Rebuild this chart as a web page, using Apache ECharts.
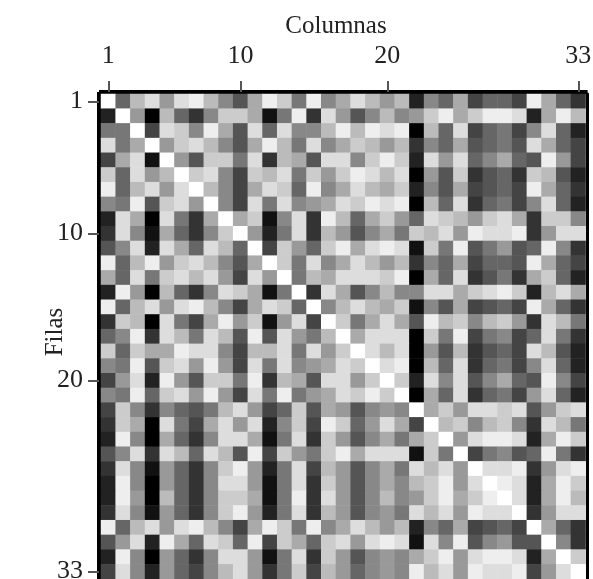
<!DOCTYPE html>
<html><head><meta charset="utf-8"><style>html,body{margin:0;padding:0;background:#fff;overflow:hidden}#c{width:593px;height:579px}</style>
<script src="https://cdn.jsdelivr.net/npm/echarts@6/dist/echarts.min.js"></script></head><body><div id="c"></div>
<script>
// Gray level of each cell: 0 = black, 15 = white
const fila01=[15,6,11,13,9,13,14,11,8,5,10,14,12,7,14,8,10,13,11,9,11,2,8,6,10,4,6,6,4,14,10,6,3];
const fila02=[2,15,9,0,11,6,3,8,12,12,10,1,7,14,3,13,9,5,8,11,8,9,12,14,10,12,14,14,13,2,10,14,11];
const fila03=[7,7,15,4,13,12,8,14,10,5,13,6,13,8,8,11,14,11,14,13,14,0,11,6,13,4,6,7,4,8,13,6,2];
const fila04=[13,7,10,15,9,12,13,11,8,5,10,14,11,7,13,8,10,12,11,9,11,3,8,6,10,5,6,7,5,13,10,6,4];
const fila05=[4,10,13,1,15,9,5,12,12,7,13,3,11,10,5,13,13,8,12,14,12,2,13,9,13,6,8,10,6,5,14,9,4];
const fila06=[12,6,13,9,11,15,12,13,8,4,12,11,13,7,12,9,12,14,13,11,13,0,9,5,12,3,5,6,3,12,11,5,2];
const fila07=[14,6,11,13,9,13,15,11,8,4,10,13,12,6,14,8,10,13,11,10,12,2,8,5,10,4,5,6,4,14,10,6,3];
const fila08=[8,7,14,5,12,13,9,15,8,4,13,7,13,8,9,10,13,12,14,13,14,0,11,6,13,3,6,7,4,8,13,6,2];
const fila09=[2,13,10,0,13,7,3,10,15,10,12,1,8,13,3,14,11,6,10,12,9,6,13,12,11,9,12,13,10,3,12,12,8];
const fila10=[3,13,8,1,10,6,3,8,12,15,9,2,7,13,3,11,9,5,8,10,7,12,11,13,9,14,13,13,14,3,9,13,13];
const fila11=[5,8,13,2,13,10,6,13,11,6,15,4,12,9,6,12,14,10,13,14,13,1,12,7,14,5,7,9,5,6,14,8,3];
const fila12=[14,6,11,14,9,12,13,11,8,5,10,15,12,7,13,8,10,13,11,9,11,3,8,6,10,4,6,6,5,14,10,6,4];
const fila13=[10,6,13,7,12,13,11,13,9,4,13,9,15,7,11,10,13,13,13,12,14,0,10,6,13,3,5,7,3,10,12,6,2];
const fila14=[2,14,9,0,11,6,3,8,13,12,10,1,7,15,3,13,10,5,8,11,8,8,13,13,10,12,13,14,12,2,11,13,10];
const fila15=[14,6,11,13,9,13,14,11,8,4,10,13,12,6,15,8,11,13,11,10,12,1,8,5,10,4,5,6,4,14,10,6,3];
const fila16=[3,12,11,0,13,7,4,10,14,9,12,1,9,13,4,15,12,7,10,13,10,5,14,11,12,8,11,12,9,3,13,11,7];
const fila17=[6,8,14,3,13,11,7,13,11,5,14,5,13,9,7,11,15,10,13,13,13,0,12,7,14,4,7,8,4,6,13,7,3];
const fila18=[12,6,12,10,10,14,13,13,8,4,11,11,13,7,13,9,12,15,13,11,13,0,9,5,11,3,5,6,4,13,11,5,2];
const fila19=[8,7,14,5,12,13,9,14,9,4,13,7,13,8,9,10,13,12,15,13,14,0,11,6,13,3,6,7,4,8,13,6,2];
const fila20=[4,9,13,2,14,9,5,12,12,7,14,3,11,10,5,13,13,9,12,15,12,2,13,8,13,5,8,10,6,5,14,8,4];
const fila21=[8,7,14,6,12,13,9,14,9,4,13,7,14,7,9,10,13,12,14,12,15,0,10,6,13,3,6,7,4,9,13,6,2];
const fila22=[4,12,8,3,8,6,5,7,11,13,9,4,6,12,5,10,9,5,8,9,8,15,10,12,9,13,13,12,13,5,9,12,13];
const fila23=[3,12,10,0,13,7,4,10,13,9,13,2,8,12,4,14,12,6,9,13,10,4,15,11,12,8,11,12,8,3,13,11,7];
const fila24=[2,14,8,0,10,6,3,8,13,13,10,1,7,13,3,12,9,5,8,10,7,10,12,15,9,13,14,14,13,2,10,14,12];
const fila25=[5,8,13,3,13,11,6,13,11,5,14,4,12,9,7,12,14,10,13,13,13,1,12,7,15,4,7,8,5,6,14,7,3];
const fila26=[3,13,8,1,9,6,3,8,12,14,9,2,7,13,4,11,9,5,8,10,7,13,11,13,9,15,13,13,14,3,9,13,14];
const fila27=[2,14,8,0,9,6,3,8,13,13,9,1,7,13,3,12,9,5,8,10,8,11,12,14,9,13,15,14,13,2,10,14,12];
const fila28=[2,14,9,0,11,6,3,8,12,12,10,1,7,14,3,13,9,5,8,11,8,9,12,14,10,12,14,15,13,2,10,14,11];
const fila29=[3,13,8,1,9,6,3,8,12,14,9,2,7,13,3,11,9,5,8,9,7,13,11,13,9,14,13,13,15,3,9,13,13];
const fila30=[14,6,11,13,9,13,14,11,8,4,10,14,12,7,14,8,10,13,11,9,11,2,8,6,10,4,5,6,4,15,10,6,3];
const fila31=[5,9,13,2,14,10,6,13,12,6,14,4,12,10,6,12,13,9,13,14,13,1,13,8,14,5,8,9,5,5,15,8,3];
const fila32=[2,14,8,0,9,6,3,8,13,13,9,1,7,13,3,12,9,5,8,9,8,10,12,14,9,13,14,14,13,2,10,15,12];
const fila33=[4,13,8,2,9,6,4,8,11,13,9,3,7,12,4,11,9,6,8,9,8,14,11,13,9,14,13,13,14,4,9,13,15];
const matriz=[fila01,fila02,fila03,fila04,fila05,fila06,fila07,fila08,fila09,fila10,fila11,fila12,fila13,fila14,fila15,fila16,fila17,fila18,fila19,fila20,fila21,fila22,fila23,fila24,fila25,fila26,fila27,fila28,fila29,fila30,fila31,fila32,fila33];
const categorias=Array.from({length:33},(_,i)=>String(i+1));
const xTicks=['1','10','20','33'];
const yTicks=['1','10','20','33'];
const celdas=[];
matriz.forEach((fila,r)=>fila.forEach((v,c)=>celdas.push([c,r,v])));

const serif='"Liberation Serif","Times New Roman",serif';
const lab=(arr,extra)=>Object.assign({show:true,interval:(i,v)=>arr.includes(v),color:'#222',fontFamily:serif,fontSize:26},extra);
const tick=(arr)=>({show:true,interval:(i,v)=>arr.includes(v),length:11,alignWithLabel:true,lineStyle:{color:'#555',width:2}});
const spine={show:true,lineStyle:{color:'#000',width:4,cap:'square'}};

const chart=echarts.init(document.getElementById('c'),null,{renderer:'canvas'});
chart.setOption({
  animation:false,
  backgroundColor:'#fff',
  grid:{left:101,top:94,width:484.6,height:485,containLabel:false,outerBoundsMode:'none'},
  xAxis:[{type:'category',position:'top',offset:2,data:categorias,axisLine:spine,axisTick:tick(xTicks),axisLabel:lab(xTicks,{margin:23}),splitLine:{show:false},splitArea:{show:false}}],
  yAxis:[
    {type:'category',position:'left',offset:2,inverse:true,data:categorias,axisLine:spine,axisTick:tick(yTicks),axisLabel:lab(yTicks,{margin:16,align:'right',padding:[0,0,4,0]}),splitLine:{show:false},splitArea:{show:false}},
    {type:'category',position:'right',offset:1.4,inverse:true,data:categorias,axisLine:{show:true,lineStyle:{color:'#000',width:3}},axisTick:{show:false},axisLabel:{show:false}}
  ],
  visualMap:{show:false,min:0,max:15,inRange:{color:['#000000','#ffffff']},dimension:2,seriesIndex:0},
  series:[{type:'heatmap',data:celdas,xAxisIndex:0,yAxisIndex:0,itemStyle:{borderWidth:0},emphasis:{disabled:true},progressive:0,silent:true}],
  graphic:[
    {type:'text',x:336,y:26,style:{text:'Columnas',fontFamily:serif,fontSize:25,fill:'#222',align:'center',verticalAlign:'middle'}},
    {type:'text',x:55,y:332,rotation:Math.PI/2,style:{text:'Filas',fontFamily:serif,fontSize:25,fill:'#222',align:'center',verticalAlign:'middle'}}
  ]
});
</script></body></html>
